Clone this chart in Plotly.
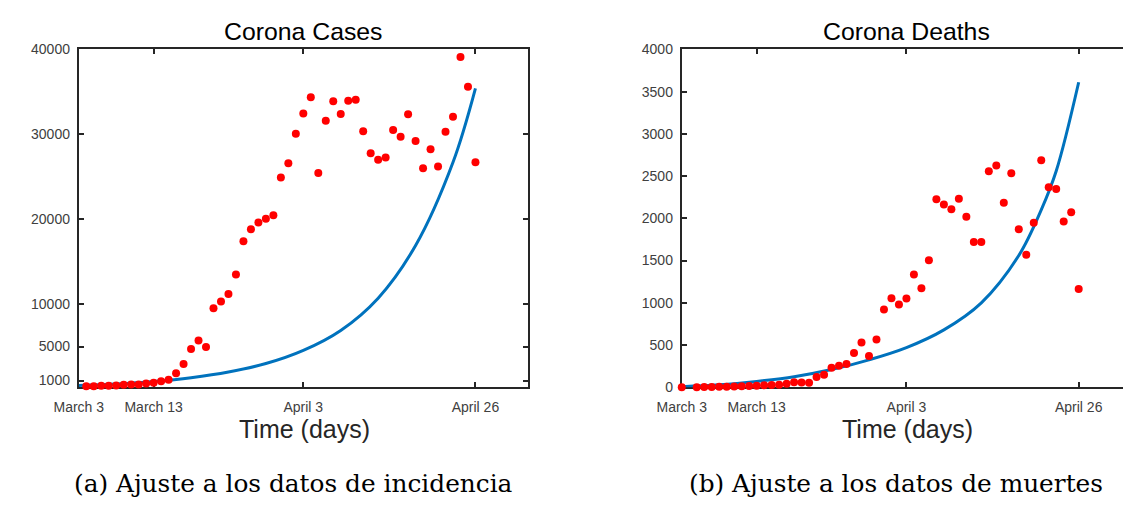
import plotly.graph_objects as go

# ---------------- data ----------------
case_days = list(range(1, 54))
cases = [330, 340, 370, 390, 420, 500, 520, 530, 650, 740, 900, 1100,
         1850, 2950, 4700, 5700, 4950, 9500, 10300, 11200, 13500, 17400,
         18800, 19600, 20050, 20450, 24900, 26600, 30050, 32450, 34350,
         25450, 31600, 33900, 32400, 33950, 34050, 30350, 27750, 27000,
         27250, 30500, 29700, 32350, 29200, 26000, 28250, 26200, 30300,
         32050, 39100, 35600, 26700]

fit_days = [0, 5, 10, 15, 20, 25, 30, 35, 40, 45, 50, 53]
cases_fit = [400, 580, 880, 1330, 2000, 3000, 4550, 6900, 10700, 16900, 26700, 35400]

death_days = [0] + list(range(2, 54))
deaths = [2, 2, 3, 4, 6, 8, 10, 12, 15, 19, 23, 27, 31, 42, 61, 57, 53,
          122, 149, 233, 256, 275, 405, 531, 370, 565, 920, 1054, 981, 1050,
          1336, 1172, 1504, 2225, 2164, 2107, 2233, 2019, 1721, 1721, 2557,
          2626, 2183, 2534, 1870, 1569, 1947, 2687, 2367, 2347, 1962, 2073,
          1164]
deaths_fit_days = [0, 5, 10, 15, 20, 25, 30, 35, 40, 45, 48, 50, 53]
deaths_fit = [8, 30, 70, 125, 210, 325, 470, 680, 1000, 1560, 2100, 2560, 3611]

x_tickvals = [0, 10, 30, 53]
x_ticktext = ["March 3", "March 13", "April 3", "April 26"]
cases_tickvals = [1000, 5000, 10000, 20000, 30000, 40000]
deaths_tickvals = [0, 500, 1000, 1500, 2000, 2500, 3000, 3500, 4000]

titles = ["Corona Cases", "Corona Deaths"]
xlabel = "Time (days)"
captions = ["(a) Ajuste a los datos de incidencia", "(b) Ajuste a los datos de muertes"]

# ---------------- figure ----------------
W, H = 1123, 506
BLUE = "#0072BD"
RED = "#FF0000"
AX = "#262626"
TICKC = "#404040"

def px(x):
    return x / W

def py(y):
    return 1 - y / H

fig = go.Figure()

fig.add_trace(go.Scatter(x=fit_days, y=cases_fit, mode="lines",
                         line=dict(color=BLUE, width=3, shape="spline"),
                         xaxis="x", yaxis="y", showlegend=False))
fig.add_trace(go.Scatter(x=case_days, y=cases, mode="markers",
                         marker=dict(color=RED, size=8), cliponaxis=False,
                         xaxis="x", yaxis="y", showlegend=False))
fig.add_trace(go.Scatter(x=deaths_fit_days, y=deaths_fit, mode="lines",
                         line=dict(color=BLUE, width=3, shape="spline"),
                         xaxis="x2", yaxis="y2", showlegend=False))
fig.add_trace(go.Scatter(x=death_days, y=deaths, mode="markers",
                         marker=dict(color=RED, size=8), cliponaxis=False,
                         xaxis="x2", yaxis="y2", showlegend=False))

tickfont = dict(family="Liberation Sans, Arial", size=14, color=TICKC)

common_x = dict(tickvals=x_tickvals, ticktext=x_ticktext, ticks="inside",
                ticklen=5, tickwidth=2, tickcolor=AX, showline=True,
                linecolor=AX, linewidth=2, showgrid=False, zeroline=False,
                tickfont=tickfont, mirror="ticks", layer="below traces",
                ticklabelstandoff=6)
common_y = dict(ticks="inside", ticklen=5, tickwidth=2, tickcolor=AX,
                showline=True, linecolor=AX, linewidth=2, showgrid=False,
                zeroline=False, tickfont=tickfont, layer="below traces",
                ticklabelstandoff=4)

y_dom = [py(391.7), py(42.7)]
right_px_per_day = 7.66
right_range_max = (W - 671.7) / right_px_per_day

fig.update_layout(
    width=W, height=H,
    margin=dict(l=0, r=0, t=0, b=0),
    paper_bgcolor="white", plot_bgcolor="white",
    xaxis=dict(domain=[px(55), px(514.3)], range=[0, 60], anchor="y", **common_x),
    yaxis=dict(domain=y_dom, range=[200, 40000], tickvals=cases_tickvals,
               ticktext=[str(v) for v in cases_tickvals], anchor="x",
               mirror="ticks", **common_y),
    xaxis2=dict(domain=[px(671.7), 1.0], range=[0, right_range_max], anchor="y2", **common_x),
    yaxis2=dict(domain=y_dom, range=[0, 4000], tickvals=deaths_tickvals,
                ticktext=[str(v) for v in deaths_tickvals], anchor="x2",
                mirror=False, **common_y),
)

annos = []
for cx, t in zip((284.7, 901.4), titles):
    annos.append(dict(text=t, x=px(cx), y=py(24), xref="paper", yref="paper",
                      showarrow=False, xanchor="center", yanchor="middle",
                      font=dict(family="Liberation Sans, Arial", size=24.8, color="black")))
for cx in (285.5, 903):
    annos.append(dict(text=xlabel, x=px(cx), y=py(435), xref="paper", yref="paper",
                      showarrow=False, xanchor="center", yanchor="middle",
                      font=dict(family="Liberation Sans, Arial", size=25, color=AX)))
for cx, txt in zip((274.7, 891), captions):
    annos.append(dict(text=txt, x=px(cx), y=py(491.5), xref="paper", yref="paper",
                      showarrow=False, xanchor="center", yanchor="middle",
                      font=dict(family="DejaVu Serif", size=24.8, color="black")))

fig.update_layout(annotations=annos)
fig.write_html("out.html")
